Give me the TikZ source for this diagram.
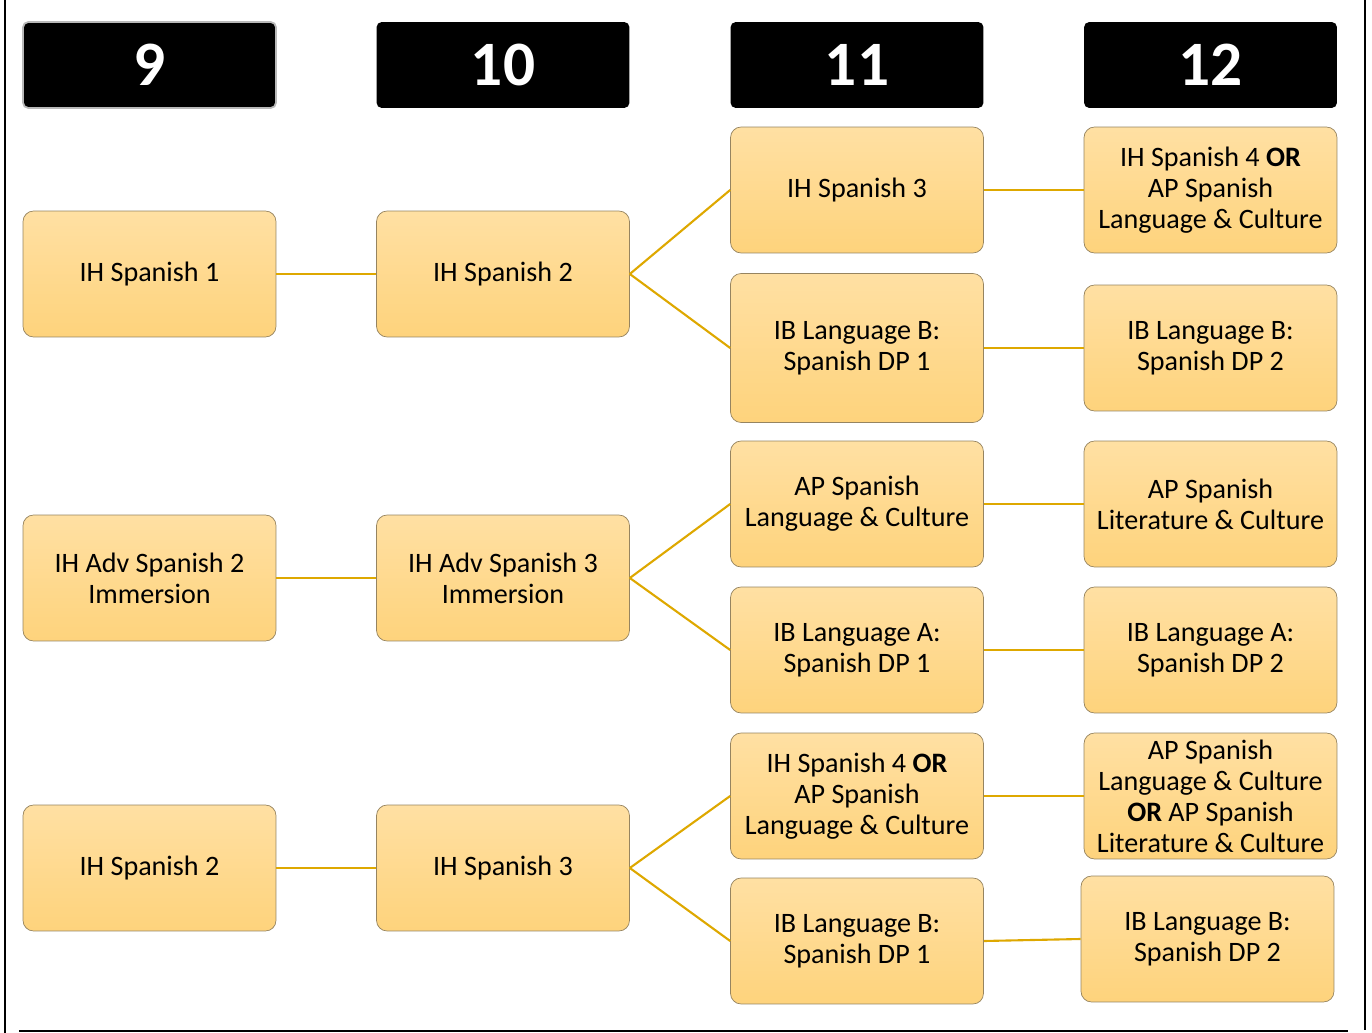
\documentclass[tikz,border=0pt]{standalone}
\usepackage{fontspec}
\setmainfont{Carlito}
\definecolor{boxtop}{RGB}{255,224,163}
\definecolor{boxbottom}{RGB}{254,211,124}
\definecolor{boxline}{RGB}{150,132,96}
\definecolor{linkcol}{RGB}{222,168,0}

\begin{document}
\begin{tikzpicture}[
		x=0.02cm, y=-0.02cm,
		grade/.style={fill=black, rounded corners=3pt, minimum width=5.06cm, minimum height=1.72cm, inner sep=0pt, text=white, font=\fontsize{36}{40}\selectfont\bfseries},
		course/.style={draw=boxline, top color=boxtop, bottom color=boxbottom, rounded corners=6pt, minimum width=5.06cm, minimum height=2.52cm, inner sep=0pt, align=center, font=\fontsize{16}{17.6}\selectfont},
		tall/.style={minimum height=2.98cm},
		link/.style={draw=linkcol, line width=1.2pt},
	]
		\useasboundingbox (0,0) rectangle (1372,1033);
		\draw[line width=1.1pt] (5,0) -- (5,1033);
		\draw[line width=1.1pt] (1365,0) -- (1365,1030);
		\draw[line width=1.1pt] (19,1031) -- (1348,1031);
		
		\node[grade, draw=gray!55, line width=1pt] (g9) at (149.5,65) {9};
		\node[grade] (g10) at (503,65) {10};
		\node[grade] (g11) at (857,65) {11};
		\node[grade] (g12) at (1210.5,65) {12};
		
		\node[course] (c9a) at (149.5,274) {IH Spanish 1};
		\node[course] (c10a) at (503,274) {IH Spanish 2};
		\node[course] (c11a) at (857,190) {IH Spanish 3};
		\node[course, tall] (c11b) at (857,348) {IB Language B:\\Spanish DP 1};
		\node[course] (c12a) at (1210.5,190) {IH Spanish 4 \textbf{OR}\\AP Spanish\\Language \& Culture};
		\node[course] (c12b) at (1210.5,348) {IB Language B:\\Spanish DP 2};
		
		\node[course] (c9b) at (149.5,578) {IH Adv Spanish 2\\Immersion};
		\node[course] (c10b) at (503,578) {IH Adv Spanish 3\\Immersion};
		\node[course] (c11c) at (857,504) {AP Spanish\\Language \& Culture};
		\node[course] (c11d) at (857,650) {IB Language A:\\Spanish DP 1};
		\node[course] (c12c) at (1210.5,504) {AP Spanish\\Literature \& Culture};
		\node[course] (c12d) at (1210.5,650) {IB Language A:\\Spanish DP 2};
		
		\node[course] (c9c) at (149.5,868) {IH Spanish 2};
		\node[course] (c10c) at (503,868) {IH Spanish 3};
		\node[course] (c11e) at (857,796) {IH Spanish 4 \textbf{OR}\\AP Spanish\\Language \& Culture};
		\node[course] (c11f) at (857,941) {IB Language B:\\Spanish DP 1};
		\node[course] (c12e) at (1210.5,796) {AP Spanish\\Language \& Culture\\\textbf{OR} AP Spanish\\Literature \& Culture};
		\node[course] (c12f) at (1207.5,939) {IB Language B:\\Spanish DP 2};
		
		\draw[link] (c9a.east) -- (c10a.west);
		\draw[link] (c10a.east) -- (c11a.west);
		\draw[link] (c10a.east) -- (c11b.west);
		\draw[link] (c11a.east) -- (c12a.west);
		\draw[link] (c11b.east) -- (c12b.west);
		
		\draw[link] (c9b.east) -- (c10b.west);
		\draw[link] (c10b.east) -- (c11c.west);
		\draw[link] (c10b.east) -- (c11d.west);
		\draw[link] (c11c.east) -- (c12c.west);
		\draw[link] (c11d.east) -- (c12d.west);
		
		\draw[link] (c9c.east) -- (c10c.west);
		\draw[link] (c10c.east) -- (c11e.west);
		\draw[link] (c10c.east) -- (c11f.west);
		\draw[link] (c11e.east) -- (c12e.west);
		\draw[link] (c11f.east) -- (c12f.west);
	\end{tikzpicture}
\end{document}
